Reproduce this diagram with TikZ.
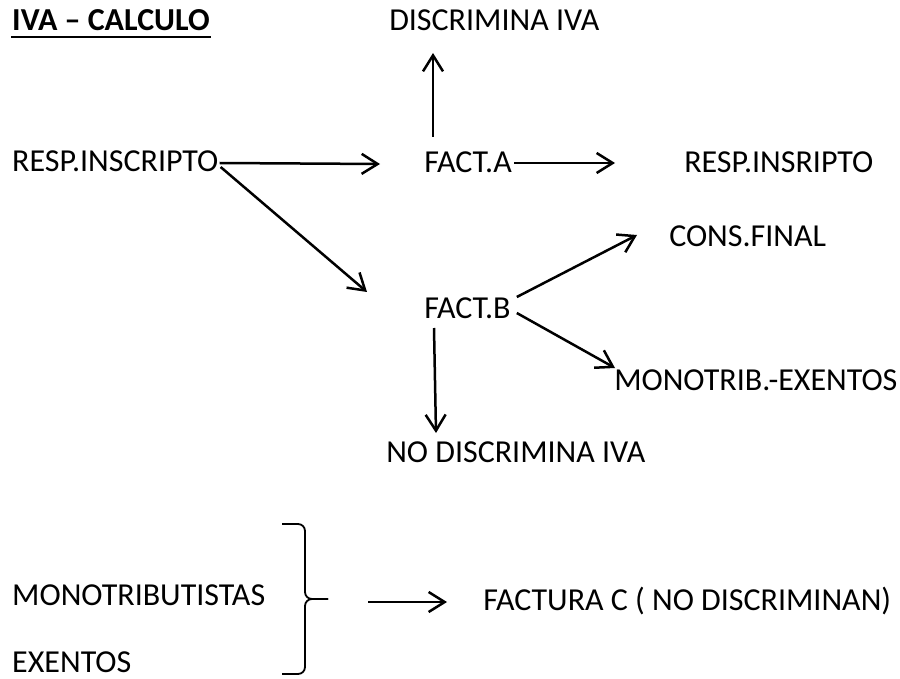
\documentclass[tikz,border=0pt]{standalone}
\usepackage{fontspec}
\setmainfont{Carlito}
\usepackage{tikz}
\usetikzlibrary{positioning}
\usetikzlibrary{arrows.meta}
\tikzset{%
  every concept/.style={
    inner sep=0pt,
    anchor=base west,
    font=\fontsize{32}{38}\selectfont
  },
  concept title/.style={
    font=\fontsize{32}{38}\selectfont\bfseries
  },
}

\begin{document}
\begin{tikzpicture}[x=1pt, y=-1pt, >={Straight Barb[length=16pt,width=20pt]}, line width=2.5pt]
\useasboundingbox (0,0) rectangle (900,679);

\node [every concept/.try, concept title/.try] (title) at (11,31) {IVA – CALCULO};
\draw [line width=2.4pt] ([yshift=-6pt]title.base west) -- ([yshift=-6pt]title.base east);

\foreach \n/\x/\y/\t in {discr/388/31/DISCRIMINA IVA,
                         resp/11/172/RESP.INSCRIPTO,
                         facta/423/173/FACT.A,
                         respb/683/173/RESP.INSRIPTO,
                         cons/668/247/CONS.FINAL,
                         factb/423/318/FACT.B,
                         mono/613/390/MONOTRIB.-EXENTOS,
                         nodisc/385/462/NO DISCRIMINA IVA,
                         monos/11/605/MONOTRIBUTISTAS,
                         exen/11/672/EXENTOS,
                         factc/482/610/FACTURA C ( NO DISCRIMINAN)}
  \node [every concept/.try] (\n) at (\x,\y) {\t};

% factura A / B
\draw [->] ([yshift=9pt]resp.base east) -- ([xshift=-43pt,yshift=9pt]facta.base west);
\draw [->] ([xshift=1pt,yshift=5pt]resp.base east) -- ([xshift=-56pt,yshift=26pt]factb.base west);
\draw [->] ([xshift=10pt,yshift=36pt]facta.base west) -- ([xshift=45pt,yshift=-22pt]discr.base west);
\draw [->] ([xshift=1pt,yshift=10pt]facta.base east) -- ([xshift=-68pt,yshift=10pt]respb.base west);
\draw [->] ([xshift=5pt,yshift=21pt]factb.base east) -- ([xshift=-31pt,yshift=12pt]cons.base west);
\draw [->] ([xshift=5pt,yshift=5pt]factb.base east) -- ([xshift=2pt,yshift=22pt]mono.base west);
\draw [->] ([xshift=11pt,yshift=-10pt]factb.base west) -- ([xshift=51pt,yshift=29pt]nodisc.base west);

% llave
\coordinate (tip) at (328,599);
\draw [line width=1.8pt, rounded corners=7pt] (282,524) -- (305,524) -- (305,599) -- (tip);
\draw [line width=1.8pt, rounded corners=7pt] (tip) -- (305,599) -- (305,674) -- (282,674);
\draw [->] ([xshift=40pt,yshift=-3pt]tip) -- ([xshift=-35pt,yshift=8pt]factc.base west);

\end{tikzpicture}
\end{document}
